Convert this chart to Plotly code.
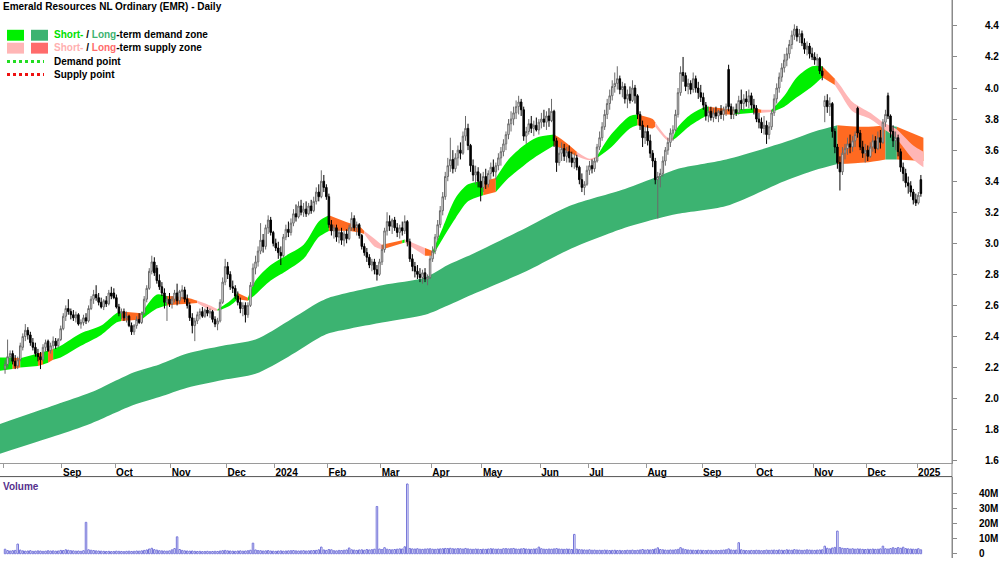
import plotly.graph_objects as go
import pandas as pd

TITLE = "Emerald Resources NL Ordinary (EMR) - Daily"
HOLIDAYS = ["2023-12-25", "2023-12-26", "2024-01-01", "2024-01-26", "2024-03-29",
            "2024-04-01", "2024-04-25", "2024-06-10", "2024-12-25", "2024-12-26", "2025-01-01"]

OPEN = [
    2.19,2.22,2.27,2.29,2.24,2.21,2.25,2.33,2.40,2.44,
    2.41,2.36,2.33,2.29,2.27,2.25,2.33,2.37,2.31,2.34,
    2.37,2.34,2.38,2.45,2.53,2.58,2.56,2.54,2.52,2.54,
    2.48,2.49,2.52,2.50,2.58,2.64,2.67,2.65,2.62,2.59,
    2.63,2.61,2.68,2.68,2.65,2.59,2.55,2.56,2.52,2.53,
    2.47,2.43,2.47,2.51,2.49,2.55,2.64,2.71,2.82,2.88,
    2.84,2.76,2.72,2.68,2.62,2.64,2.61,2.64,2.68,2.63,
    2.69,2.70,2.64,2.60,2.52,2.47,2.50,2.54,2.56,2.53,
    2.57,2.55,2.56,2.51,2.48,2.50,2.62,2.75,2.85,2.80,
    2.72,2.71,2.66,2.62,2.58,2.60,2.54,2.60,2.73,2.84,
    2.88,2.95,3.02,2.98,3.10,3.15,3.07,3.00,2.97,2.94,
    2.92,3.04,3.09,3.07,3.13,3.19,3.17,3.24,3.20,3.22,
    3.19,3.24,3.21,3.27,3.33,3.30,3.40,3.36,3.30,3.12,
    3.08,3.10,3.04,3.07,3.02,3.06,3.03,3.10,3.16,3.10,
    3.12,3.05,2.98,2.94,2.91,2.86,2.88,2.83,2.80,2.88,
    2.96,3.08,3.14,3.11,3.15,3.10,3.07,3.10,3.08,3.14,
    3.01,2.90,2.85,2.82,2.80,2.78,2.81,2.77,2.78,2.90,
    2.95,3.04,3.12,3.21,3.30,3.43,3.50,3.54,3.48,3.55,
    3.60,3.58,3.69,3.74,3.63,3.50,3.44,3.46,3.40,3.36,
    3.43,3.38,3.45,3.49,3.46,3.50,3.55,3.59,3.64,3.70,
    3.77,3.80,3.84,3.88,3.91,3.86,3.69,3.72,3.77,3.74,
    3.76,3.73,3.78,3.80,3.78,3.82,3.79,3.85,3.66,3.52,
    3.58,3.61,3.56,3.59,3.55,3.52,3.55,3.49,3.41,3.36,
    3.38,3.47,3.50,3.48,3.53,3.62,3.68,3.75,3.83,3.90,
    3.95,4.01,4.03,4.06,3.99,4.01,3.93,3.96,3.92,4.00,
    3.95,3.83,3.76,3.68,3.72,3.66,3.58,3.53,3.41,3.43,
    3.45,3.53,3.60,3.65,3.71,3.73,3.83,3.97,4.10,4.08,
    4.01,4.03,3.99,4.06,4.00,3.97,3.94,3.89,3.82,3.85,
    3.81,3.84,3.82,3.85,3.83,3.86,4.12,3.88,3.83,3.86,
    3.84,3.92,3.90,3.93,3.91,3.95,3.89,3.87,3.80,3.78,
    3.74,3.76,3.70,3.75,3.84,3.93,4.00,4.07,4.13,4.18,
    4.22,4.28,4.34,4.38,4.33,4.35,4.29,4.25,4.27,4.22,
    4.20,4.18,4.19,4.11,3.88,3.92,3.88,3.90,3.72,3.62,
    3.52,3.46,3.58,3.61,3.64,3.62,3.66,3.87,3.71,3.62,
    3.58,3.60,3.56,3.62,3.66,3.61,3.68,3.65,3.78,3.95,
    3.82,3.72,3.66,3.68,3.59,3.49,3.45,3.39,3.37,3.33,
    3.28,3.26,3.41]

HIGH = [
    2.25,2.38,2.31,2.31,2.28,2.27,2.36,2.42,2.48,2.46,
    2.43,2.39,2.36,2.32,2.30,2.35,2.38,2.38,2.36,2.40,
    2.39,2.39,2.47,2.55,2.60,2.64,2.58,2.57,2.56,2.55,
    2.51,2.54,2.55,2.60,2.66,2.70,2.73,2.68,2.65,2.64,
    2.66,2.70,2.72,2.71,2.67,2.61,2.58,2.58,2.56,2.54,
    2.49,2.48,2.53,2.55,2.56,2.66,2.73,2.84,2.92,2.91,
    2.86,2.80,2.75,2.71,2.66,2.68,2.66,2.70,2.74,2.70,
    2.73,2.72,2.67,2.62,2.55,2.52,2.56,2.58,2.59,2.58,
    2.59,2.58,2.57,2.53,2.52,2.64,2.78,2.90,2.88,2.82,
    2.76,2.73,2.69,2.65,2.62,2.62,2.62,2.75,2.87,2.92,
    2.98,3.13,3.06,3.12,3.18,3.17,3.08,3.03,3.01,2.98,
    3.06,3.12,3.14,3.16,3.22,3.25,3.27,3.28,3.26,3.27,
    3.26,3.28,3.30,3.36,3.38,3.47,3.44,3.38,3.32,3.15,
    3.12,3.12,3.09,3.10,3.08,3.09,3.12,3.20,3.18,3.14,
    3.13,3.06,3.00,2.97,2.93,2.90,2.90,2.86,2.90,2.99,
    3.10,3.20,3.18,3.16,3.17,3.13,3.12,3.14,3.18,3.15,
    3.03,2.93,2.88,2.86,2.84,2.83,2.84,2.80,2.92,2.98,
    3.06,3.15,3.24,3.33,3.46,3.55,3.68,3.60,3.58,3.63,
    3.65,3.72,3.82,3.77,3.64,3.54,3.50,3.49,3.45,3.46,
    3.48,3.47,3.52,3.54,3.52,3.58,3.62,3.67,3.72,3.80,
    3.85,3.88,3.92,3.95,3.93,3.88,3.75,3.80,3.82,3.79,
    3.81,3.80,3.84,3.86,3.85,3.87,3.93,3.86,3.68,3.62,
    3.65,3.64,3.62,3.63,3.59,3.58,3.57,3.50,3.45,3.40,
    3.50,3.53,3.54,3.55,3.64,3.72,3.78,3.86,3.93,3.99,
    4.05,4.10,4.14,4.08,4.04,4.03,3.99,4.01,4.05,4.02,
    3.96,3.85,3.79,3.75,3.76,3.70,3.60,3.55,3.46,3.48,
    3.56,3.62,3.68,3.74,3.76,3.86,4.00,4.14,4.20,4.10,
    4.06,4.05,4.10,4.08,4.04,4.02,3.97,3.91,3.88,3.88,
    3.87,3.88,3.86,3.89,3.88,3.90,4.15,3.90,3.88,3.90,
    3.95,3.99,3.96,3.98,3.99,3.97,3.93,3.89,3.84,3.81,
    3.82,3.79,3.78,3.86,3.96,4.03,4.10,4.16,4.22,4.26,
    4.31,4.37,4.41,4.40,4.38,4.37,4.32,4.30,4.29,4.26,
    4.23,4.22,4.20,4.14,3.95,3.96,3.94,3.91,3.74,3.64,
    3.56,3.62,3.64,3.68,3.70,3.69,3.72,3.88,3.73,3.66,
    3.64,3.63,3.65,3.70,3.69,3.72,3.73,3.80,3.86,3.97,
    3.83,3.76,3.72,3.70,3.61,3.52,3.48,3.43,3.40,3.35,
    3.32,3.33,3.44]

LOW = [
    2.16,2.20,2.23,2.22,2.19,2.19,2.24,2.31,2.37,2.38,
    2.34,2.31,2.27,2.24,2.19,2.24,2.30,2.30,2.29,2.32,
    2.32,2.33,2.37,2.44,2.50,2.54,2.51,2.50,2.49,2.47,
    2.45,2.47,2.48,2.49,2.57,2.61,2.63,2.60,2.58,2.57,
    2.59,2.60,2.64,2.64,2.58,2.53,2.51,2.50,2.49,2.46,
    2.41,2.41,2.45,2.48,2.48,2.54,2.62,2.70,2.80,2.79,
    2.74,2.70,2.66,2.58,2.50,2.59,2.58,2.62,2.60,2.61,
    2.64,2.62,2.58,2.50,2.42,2.37,2.48,2.51,2.52,2.52,
    2.53,2.52,2.49,2.46,2.44,2.49,2.61,2.73,2.77,2.70,
    2.68,2.64,2.60,2.55,2.53,2.49,2.52,2.59,2.72,2.80,
    2.85,2.93,2.94,2.96,3.06,3.05,2.98,2.95,2.90,2.86,
    2.91,3.02,3.04,3.05,3.11,3.14,3.16,3.18,3.17,3.17,
    3.18,3.19,3.20,3.25,3.27,3.29,3.33,3.28,3.10,3.05,
    3.03,3.01,3.00,2.99,2.98,3.00,3.02,3.08,3.08,3.05,
    3.03,2.96,2.92,2.88,2.84,2.82,2.80,2.76,2.79,2.86,
    2.94,3.05,3.08,3.06,3.08,3.04,3.03,3.05,3.06,2.98,
    2.88,2.82,2.78,2.77,2.75,2.74,2.75,2.73,2.77,2.88,
    2.93,3.02,3.10,3.18,3.28,3.40,3.46,3.45,3.46,3.50,
    3.54,3.57,3.66,3.60,3.46,3.40,3.38,3.36,3.27,3.33,
    3.35,3.36,3.41,3.43,3.41,3.47,3.50,3.56,3.60,3.67,
    3.72,3.76,3.80,3.83,3.82,3.66,3.64,3.70,3.71,3.69,
    3.72,3.70,3.74,3.75,3.73,3.75,3.78,3.62,3.46,3.50,
    3.53,3.53,3.52,3.52,3.49,3.48,3.47,3.38,3.33,3.31,
    3.37,3.44,3.45,3.46,3.52,3.60,3.66,3.73,3.80,3.86,
    3.92,3.97,3.99,3.96,3.94,3.90,3.87,3.90,3.91,3.90,
    3.80,3.73,3.62,3.64,3.63,3.55,3.49,3.38,3.16,3.36,
    3.43,3.50,3.57,3.62,3.66,3.72,3.81,3.95,4.04,3.98,
    3.96,3.96,3.97,3.97,3.93,3.91,3.86,3.79,3.78,3.79,
    3.78,3.80,3.78,3.80,3.79,3.82,3.85,3.80,3.80,3.82,
    3.83,3.86,3.85,3.88,3.87,3.86,3.83,3.78,3.74,3.71,
    3.70,3.64,3.67,3.73,3.82,3.90,3.97,4.04,4.10,4.14,
    4.19,4.25,4.31,4.30,4.29,4.27,4.22,4.21,4.19,4.18,
    4.15,4.14,4.09,4.05,3.78,3.84,3.82,3.68,3.58,3.48,
    3.34,3.44,3.54,3.57,3.58,3.59,3.62,3.68,3.60,3.55,
    3.52,3.53,3.55,3.59,3.58,3.60,3.61,3.64,3.75,3.80,
    3.68,3.62,3.60,3.56,3.46,3.40,3.36,3.32,3.30,3.25,
    3.24,3.25,3.30]

CLOSE = [
    2.22,2.27,2.29,2.24,2.21,2.25,2.34,2.40,2.44,2.41,
    2.36,2.33,2.29,2.27,2.25,2.33,2.36,2.31,2.34,2.37,
    2.34,2.38,2.45,2.53,2.58,2.56,2.54,2.52,2.54,2.48,
    2.49,2.52,2.50,2.58,2.64,2.67,2.65,2.62,2.59,2.63,
    2.61,2.68,2.66,2.65,2.59,2.55,2.56,2.52,2.53,2.47,
    2.43,2.47,2.51,2.49,2.55,2.64,2.71,2.82,2.88,2.81,
    2.76,2.72,2.68,2.62,2.64,2.61,2.64,2.68,2.63,2.69,
    2.70,2.64,2.60,2.52,2.47,2.50,2.54,2.56,2.53,2.57,
    2.55,2.56,2.51,2.48,2.50,2.62,2.75,2.85,2.80,2.72,
    2.71,2.66,2.62,2.58,2.60,2.54,2.60,2.73,2.84,2.88,
    2.95,3.02,2.98,3.10,3.15,3.07,3.00,2.97,2.94,2.92,
    3.04,3.09,3.07,3.13,3.19,3.17,3.24,3.20,3.22,3.19,
    3.24,3.21,3.27,3.33,3.30,3.40,3.36,3.30,3.12,3.08,
    3.10,3.04,3.07,3.02,3.06,3.03,3.10,3.16,3.10,3.12,
    3.05,2.98,2.94,2.91,2.86,2.88,2.83,2.80,2.88,2.96,
    3.08,3.14,3.11,3.15,3.10,3.07,3.10,3.08,3.14,3.01,
    2.90,2.85,2.82,2.80,2.78,2.81,2.77,2.78,2.90,2.95,
    3.04,3.12,3.21,3.30,3.43,3.50,3.54,3.48,3.55,3.60,
    3.58,3.69,3.74,3.63,3.50,3.44,3.46,3.40,3.36,3.43,
    3.38,3.45,3.49,3.46,3.50,3.55,3.59,3.64,3.70,3.77,
    3.80,3.84,3.88,3.91,3.86,3.69,3.72,3.77,3.74,3.76,
    3.73,3.78,3.80,3.78,3.82,3.79,3.85,3.66,3.52,3.58,
    3.61,3.56,3.59,3.55,3.52,3.55,3.49,3.41,3.36,3.38,
    3.47,3.50,3.48,3.53,3.62,3.68,3.75,3.83,3.90,3.95,
    4.01,4.03,4.06,3.99,4.01,3.93,3.96,3.92,4.00,3.95,
    3.83,3.76,3.68,3.72,3.66,3.58,3.53,3.41,3.43,3.45,
    3.53,3.60,3.65,3.71,3.73,3.83,3.97,4.10,4.08,4.01,
    4.03,3.99,4.06,4.00,3.97,3.94,3.89,3.82,3.85,3.81,
    3.84,3.82,3.85,3.83,3.86,3.88,3.88,3.83,3.86,3.84,
    3.92,3.90,3.93,3.91,3.95,3.89,3.87,3.80,3.78,3.74,
    3.76,3.70,3.75,3.84,3.93,4.00,4.07,4.13,4.18,4.22,
    4.28,4.34,4.38,4.33,4.35,4.29,4.25,4.27,4.22,4.20,
    4.18,4.19,4.11,4.08,3.92,3.88,3.90,3.72,3.62,3.52,
    3.46,3.58,3.61,3.64,3.62,3.66,3.70,3.71,3.62,3.58,
    3.60,3.56,3.62,3.66,3.61,3.68,3.65,3.78,3.83,3.82,
    3.72,3.66,3.68,3.59,3.49,3.45,3.39,3.37,3.33,3.28,
    3.26,3.31,3.32]

VOLUME_M = [
    3.0,2.1,1.8,2.0,2.2,6.4,2.4,1.9,1.7,1.8,2.0,1.6,1.7,1.9,1.8,1.6,1.7,2.0,1.8,1.9,
    1.7,1.8,2.2,2.1,2.6,2.3,2.0,1.9,1.7,1.8,1.6,2.0,20.8,2.6,2.3,2.1,1.9,1.8,1.7,1.6,
    1.5,1.6,1.4,1.5,1.7,1.6,1.5,1.4,1.6,1.7,1.5,1.6,1.8,1.7,1.9,2.2,2.5,3.1,3.6,2.7,
    2.4,2.0,1.9,1.8,1.7,1.9,2.6,3.4,11.2,2.8,2.2,1.9,1.8,1.7,1.8,1.6,1.5,1.6,1.4,1.5,
    1.6,1.4,1.5,1.6,1.5,1.8,2.0,2.2,1.9,1.8,1.7,1.6,1.8,1.9,1.7,1.8,2.0,2.3,7.0,2.5,
    2.1,2.0,1.8,1.9,2.1,1.8,1.7,1.6,1.8,1.9,1.7,1.8,1.9,2.0,2.1,1.9,1.8,1.9,2.0,1.8,
    1.9,2.0,2.1,2.2,2.6,4.4,2.5,2.2,2.8,2.6,2.0,1.9,2.2,2.1,2.3,2.5,3.8,2.6,2.4,2.2,
    2.5,2.6,2.3,2.8,2.5,2.7,3.0,31.3,3.1,2.8,4.0,3.0,2.7,2.6,2.8,3.0,3.2,3.1,4.6,46.2,
    3.5,3.2,3.1,3.3,3.0,2.9,3.1,3.2,3.3,3.0,2.9,3.1,3.2,3.3,3.5,3.4,3.6,3.3,3.2,3.4,
    3.3,3.1,3.5,3.2,3.0,2.9,3.1,3.0,2.8,3.0,2.9,3.1,3.3,3.2,3.0,3.1,2.9,3.3,3.4,3.2,
    3.3,3.5,3.1,3.0,3.2,3.4,3.1,3.0,2.9,3.1,3.2,4.4,3.3,3.0,2.9,3.1,3.0,3.2,3.4,3.1,
    3.0,2.9,3.1,3.0,2.8,12.8,3.0,2.7,2.6,2.5,2.4,2.6,2.3,2.4,2.2,2.3,2.2,2.4,2.3,2.1,
    2.2,2.3,2.1,2.2,2.0,2.1,2.3,2.2,2.4,2.1,2.3,2.5,2.8,2.4,2.6,2.5,2.7,3.1,3.9,2.8,
    2.6,2.4,2.3,2.5,2.4,2.6,2.9,4.0,3.2,2.7,2.5,2.4,2.3,2.2,2.4,2.3,2.2,2.1,2.3,2.2,
    2.0,2.2,2.1,2.3,2.4,2.6,3.2,2.5,2.3,2.4,7.3,2.6,2.2,2.1,2.0,2.2,2.1,2.3,2.2,2.0,
    2.1,2.4,2.2,2.3,2.4,2.2,2.5,2.3,2.2,2.6,2.4,2.3,2.7,2.5,2.4,2.2,2.3,2.6,2.4,2.3,
    2.2,2.4,2.5,2.6,5.0,3.6,3.2,3.8,4.2,15.0,4.1,3.6,3.4,3.5,3.1,3.3,3.0,3.2,3.1,2.9,
    2.8,3.0,2.9,3.1,2.9,3.0,3.2,5.0,3.3,3.1,3.4,4.0,3.5,4.1,3.6,4.3,3.4,3.2,3.1,3.0,
    2.9,3.3,2.6]

# Long-term zone band (read at sample days), zone code of the segment starting at each sample
LONG_DAY = [-2, 20, 34, 51, 61, 72, 86, 99, 112, 124, 128, 149, 166, 175, 186, 206, 223,
            245, 258, 266, 285, 308, 320, 329, 340, 348, 352.5, 363]
LONG_UP = [1.837, 1.96, 2.04, 2.17, 2.22, 2.29, 2.34, 2.38, 2.50, 2.62, 2.65, 2.73, 2.78,
           2.86, 2.94, 3.10, 3.24, 3.35, 3.43, 3.48, 3.54, 3.65, 3.72, 3.76, 3.75, 3.76, 3.75, 3.68]
LONG_LO = [1.645, 1.76, 1.84, 1.96, 2.01, 2.07, 2.12, 2.16, 2.27, 2.39, 2.42, 2.49, 2.54,
           2.60, 2.68, 2.82, 2.96, 3.10, 3.16, 3.19, 3.24, 3.40, 3.47, 3.51, 3.52, 3.54, 3.54, 3.53]
LONG_ZONE = ["D"] * 23 + ["O", "O", "D", "O", "O"]

# Short-term zone band
SHORT_DAY = [-2, 3, 6, 13, 15, 17, 19, 22, 30, 38, 44, 46, 54, 60, 64, 72, 76, 81, 84, 89,
             92, 96, 99, 105, 111, 118, 124, 128, 136, 140, 142, 146, 149, 157, 158, 166, 169,
             173, 178, 183, 189, 194, 199, 205, 210, 217, 220, 226, 231, 234, 239, 247, 250,
             256, 257, 262, 264, 266, 271, 277, 278, 288, 296, 299, 303, 308, 313, 319, 323,
             328, 330, 335, 342, 347, 352, 359, 363]
SHORT_UP = [2.265, 2.265, 2.26, 2.29, 2.30, 2.31, 2.32, 2.34, 2.42, 2.47, 2.55, 2.56, 2.55,
            2.67, 2.66, 2.65, 2.63, 2.60, 2.575, 2.63, 2.68, 2.65, 2.76, 2.86, 2.92, 2.99, 3.14,
            3.18, 3.13, 3.11, 3.08, 3.03, 2.99, 3.02, 3.025, 2.97, 2.95, 3.10, 3.29, 3.38, 3.40,
            3.42, 3.54, 3.63, 3.68, 3.70, 3.67, 3.59, 3.545, 3.56, 3.69, 3.82, 3.83, 3.80, 3.78,
            3.68, 3.68, 3.75, 3.83, 3.88, 3.88, 3.86, 3.87, 3.86, 3.86, 3.95, 4.07, 4.14, 4.14,
            4.06, 4.02, 3.91, 3.84, 3.78, 3.74, 3.63, 3.59]
SHORT_LO = [2.18, 2.19, 2.20, 2.21, 2.22, 2.23, 2.25, 2.265, 2.34, 2.41, 2.49, 2.50, 2.51,
            2.58, 2.60, 2.61, 2.615, 2.57, 2.565, 2.60, 2.64, 2.63, 2.67, 2.76, 2.82, 2.90, 3.04,
            3.08, 3.08, 3.07, 3.06, 2.98, 2.96, 3.00, 3.005, 2.92, 2.92, 3.03, 3.16, 3.27, 3.31,
            3.33, 3.42, 3.50, 3.56, 3.63, 3.61, 3.56, 3.535, 3.55, 3.61, 3.74, 3.76, 3.74, 3.75,
            3.66, 3.665, 3.69, 3.76, 3.82, 3.83, 3.83, 3.84, 3.84, 3.845, 3.88, 3.94, 4.01, 4.07,
            4.02, 3.97, 3.85, 3.80, 3.74, 3.68, 3.54, 3.49]
SHORT_ZONE = ["G", "O", "G", "O", "G", "O", "G", "G", "G", "G", "G", "O", "G", "G", "O", "O",
              "P", "P", "G", "G", "O", "G", "G", "G", "G", "G", "G", "O", "O", "O", "P", "P",
              "O", "G", "P", "O", "G", "G", "G", "G", "O", "G", "G", "G", "G", "O", "O", "P",
              "P", "G", "G", "G", "O", "O", "P", "P", "G", "G", "G", "G", "O", "G", "O", "P",
              "G", "G", "G", "G", "O", "P", "P", "P", "P", "P", "P", "P", "P"]

ZONE_COLORS = {"G": "#00F000", "D": "#3CB371", "P": "#FFB6B6", "O": "#FF6A21"}

# ---------------- layout constants ----------------
W, H = 1000, 562
PW = 952
XR = [-2.0, 374.3]
YR = [1.5872, 4.5668]
VR = [-2.83, 51.1]
FONT = "Liberation Sans, Arial, sans-serif"


def px(v):
    return v / PW


def py(v):
    return 1 - v / H


n = len(CLOSE)
X = list(range(n))

days = [d for d in pd.bdate_range("2023-08-01", "2025-01-10") if d.strftime("%Y-%m-%d") not in HOLIDAYS][:n]
tickvals, ticktext = [], []
prev = None
for i, d in enumerate(days):
    key = (d.year, d.month)
    if key != prev:
        tickvals.append(i - 0.5)
        if i == 0:
            ticktext.append("")
        elif d.month == 1:
            ticktext.append(str(d.year))
        else:
            ticktext.append(d.strftime("%b"))
        prev = key

fig = go.Figure()


def add_band(dd, up, lo, zones):
    m = len(dd)
    s = 0
    for k in range(1, m):
        if k == m - 1 or zones[k] != zones[s]:
            xs = dd[s:k + 1]
            fig.add_trace(go.Scatter(x=xs, y=lo[s:k + 1], mode="lines",
                                     line=dict(width=0, shape="spline", smoothing=0.8),
                                     hoverinfo="skip", xaxis="x", yaxis="y"))
            fig.add_trace(go.Scatter(x=xs, y=up[s:k + 1], mode="lines",
                                     line=dict(width=0, shape="spline", smoothing=0.8),
                                     fill="tonexty", fillcolor=ZONE_COLORS[zones[s]],
                                     hoverinfo="skip", xaxis="x", yaxis="y"))
            s = k


add_band(LONG_DAY, LONG_UP, LONG_LO, LONG_ZONE)
add_band(SHORT_DAY, SHORT_UP, SHORT_LO, SHORT_ZONE)

fig.add_trace(go.Candlestick(
    x=X, open=OPEN, high=HIGH, low=LOW, close=CLOSE, xaxis="x", yaxis="y3",
    increasing=dict(line=dict(color="#6a6a6a", width=1), fillcolor="#ffffff"),
    decreasing=dict(line=dict(color="#000000", width=1), fillcolor="#000000"),
    whiskerwidth=0, hoverinfo="skip"))

fig.add_trace(go.Bar(
    x=X, y=VOLUME_M, xaxis="x2", yaxis="y2", width=0.6,
    marker=dict(color="rgba(255,255,255,0)", line=dict(color="#7373D9", width=1)),
    hoverinfo="skip"))

tickfont = dict(family=FONT, size=10, color="#000000", weight="bold")
price_ticks = [round(1.6 + 0.2 * k, 1) for k in range(15)]

fig.update_layout(
    width=W, height=H, margin=dict(l=0, r=48, t=0, b=0),
    paper_bgcolor="white", plot_bgcolor="white", showlegend=False,
    font=dict(family=FONT, size=10, color="#000000"),
    bargap=0.1, boxgap=0.15,
    xaxis=dict(domain=[0, 1], range=XR, anchor="y", showgrid=False, zeroline=False,
               showline=True, linecolor="#9a9a9a", linewidth=1,
               ticks="outside", ticklen=4, tickcolor="#9a9a9a",
               tickvals=tickvals, ticktext=ticktext, tickfont=tickfont,
               ticklabelposition="outside right", rangeslider=dict(visible=False)),
    yaxis=dict(domain=[1 - 466 / H, 1], range=YR, anchor="x", side="right",
               showgrid=False, zeroline=False, showline=True, linecolor="#8a8a8a",
               ticks="outside", ticklen=4, tickcolor="#8a8a8a",
               tickvals=price_ticks, ticktext=["%.1f" % v for v in price_ticks],
               tickfont=tickfont, ticklabelstandoff=26),
    yaxis3=dict(overlaying="y", range=YR, visible=False, anchor="x"),
    xaxis2=dict(domain=[0, 1], range=XR, anchor="y2", showgrid=False, zeroline=False,
                showline=False, showticklabels=False, ticks=""),
    yaxis2=dict(domain=[0, 82 / H], range=VR, anchor="x2", side="right",
                showgrid=False, zeroline=False, showline=True, linecolor="#8a8a8a",
                ticks="outside", ticklen=4, tickcolor="#8a8a8a",
                tickvals=[0, 10, 20, 30, 40], ticktext=["0", "10M", "20M", "30M", "40M"],
                tickfont=tickfont, ticklabelstandoff=20),
)

shapes = [
    dict(type="line", xref="paper", yref="paper", x0=1, x1=1, y0=0, y1=1,
         line=dict(color="#8a8a8a", width=1)),
    dict(type="line", xref="paper", yref="paper", x0=0, x1=1, y0=py(480), y1=py(480),
         line=dict(color="#555555", width=1)),
    dict(type="rect", xref="paper", yref="paper", x0=px(7), x1=px(24), y0=py(41), y1=py(30),
         fillcolor="#00F000", line=dict(width=0)),
    dict(type="rect", xref="paper", yref="paper", x0=px(31), x1=px(48), y0=py(41), y1=py(30),
         fillcolor="#3CB371", line=dict(width=0)),
    dict(type="rect", xref="paper", yref="paper", x0=px(7), x1=px(24), y0=py(54), y1=py(43),
         fillcolor="#FFB6B6", line=dict(width=0)),
    dict(type="rect", xref="paper", yref="paper", x0=px(31), x1=px(48), y0=py(54), y1=py(43),
         fillcolor="#FF6B6B", line=dict(width=0)),
    dict(type="line", xref="paper", yref="paper", x0=px(7), x1=px(44), y0=py(62), y1=py(62),
         line=dict(color="#22DD22", width=3, dash="dot")),
    dict(type="line", xref="paper", yref="paper", x0=px(7), x1=px(44), y0=py(75), y1=py(75),
         line=dict(color="#EE1111", width=3, dash="dot")),
]

ann_font = dict(family=FONT, size=10, color="#000000")
annotations = [
    dict(text="<b>" + TITLE + "</b>", x=px(1), y=py(7)),
    dict(text="<b><span style='color:#00E000'>Short-</span> / <span style='color:#3CB371'>Long</span>-term demand zone</b>",
         x=px(52), y=py(35)),
    dict(text="<b><span style='color:#FFB0B0'>Short-</span> / <span style='color:#FF6B6B'>Long</span>-term supply zone</b>",
         x=px(52), y=py(48)),
    dict(text="<b>Demand point</b>", x=px(52), y=py(62)),
    dict(text="<b>Supply point</b>", x=px(52), y=py(75)),
    dict(text="<b>Volume</b>", x=px(1), y=py(490), font=dict(family=FONT, size=10, color="#55308D")),
]
for a in annotations:
    a.update(xref="paper", yref="paper", xanchor="left", yanchor="middle", showarrow=False)
    a.setdefault("font", ann_font)

fig.update_layout(shapes=shapes, annotations=annotations)
fig.write_html("out.html")
